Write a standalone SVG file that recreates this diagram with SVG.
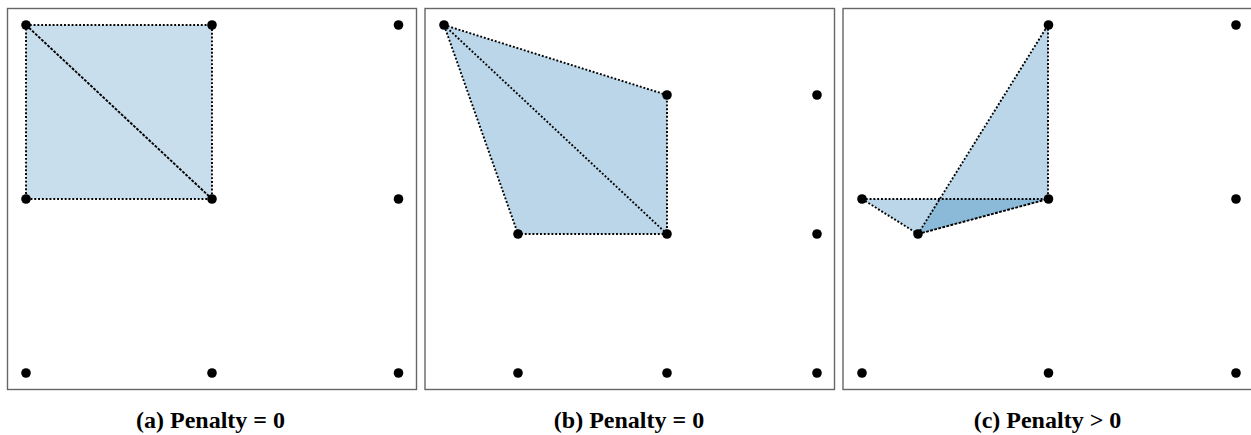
<svg xmlns="http://www.w3.org/2000/svg" width="1251" height="435" viewBox="0 0 1251 435">
<style>
.frame{fill:none;stroke:#666;stroke-width:1.4}
.pt{fill:#000}
.fa{fill:#1f77b4;fill-opacity:0.24;stroke:none}
.fb{fill:#1f77b4;fill-opacity:0.3;stroke:none}
.edge{fill:none;stroke:#000;stroke-width:1.9;stroke-dasharray:1.9 1.9}
.diag{fill:none;stroke:#000;stroke-width:1.9;stroke-dasharray:2.8 1.4}
.cap{font-family:"Liberation Serif","Times New Roman",serif;font-weight:bold;font-size:24px;text-anchor:middle;fill:#000}
</style>
<rect x="0" y="0" width="1251" height="435" fill="#fff"/>
<g id="panel-a">
<rect class="frame" x="7.5" y="8.5" width="409" height="381"/>
<polygon class="fa" points="26,25 212,25 212,199 26,199"/>
<g id="connectors-a">
<polyline class="edge" points="26,25 212,25 212,199 26,199 26,25"/>
<line class="diag" x1="26" y1="25" x2="212" y2="199"/>
</g>
<g id="points-a">
<circle class="pt" cx="26" cy="25" r="4.8"/><circle class="pt" cx="212" cy="25" r="4.8"/><circle class="pt" cx="398.5" cy="25" r="4.8"/>
<circle class="pt" cx="26" cy="199" r="4.8"/><circle class="pt" cx="212" cy="199" r="4.8"/><circle class="pt" cx="398.5" cy="199" r="4.8"/>
<circle class="pt" cx="26" cy="373" r="4.8"/><circle class="pt" cx="212" cy="373" r="4.8"/><circle class="pt" cx="398.5" cy="373" r="4.8"/>
</g>
<text class="cap" x="210.5" y="428">(a) Penalty = 0</text>
</g>
<g id="panel-b">
<rect class="frame" x="425" y="8.5" width="409.5" height="381"/>
<polygon class="fb" points="444,25 667,95 667,234 518,234"/>
<g id="connectors-b">
<polyline class="edge" points="444,25 667,95 667,234 518,234 444,25"/>
<line class="edge" x1="444" y1="25" x2="667" y2="234"/>
</g>
<g id="points-b">
<circle class="pt" cx="444" cy="25" r="4.8"/>
<circle class="pt" cx="667" cy="95" r="4.8"/><circle class="pt" cx="817" cy="95" r="4.8"/>
<circle class="pt" cx="518" cy="234" r="4.8"/><circle class="pt" cx="667" cy="234" r="4.8"/><circle class="pt" cx="817" cy="234" r="4.8"/>
<circle class="pt" cx="518" cy="373" r="4.8"/><circle class="pt" cx="667" cy="373" r="4.8"/><circle class="pt" cx="817" cy="373" r="4.8"/>
</g>
<text class="cap" x="629" y="428">(b) Penalty = 0</text>
</g>
<g id="panel-c">
<rect class="frame" x="843" y="8.5" width="409" height="381"/>
<polygon class="fb" points="862,199 1048,199 918,234"/>
<polygon class="fb" points="918,234 1048,25 1048,199"/>
<g id="connectors-c">
<polyline class="edge" points="862,199 1048,199"/>
<polyline class="edge" points="862,199 918,234"/>
<polyline class="edge" points="918,234 1048,25"/>
<polyline class="edge" points="1048,25 1048,199"/>
<line class="diag" x1="918" y1="234" x2="1048" y2="199"/>
</g>
<g id="points-c">
<circle class="pt" cx="1048.5" cy="25" r="4.8"/><circle class="pt" cx="1236" cy="25" r="4.8"/>
<circle class="pt" cx="862" cy="199" r="4.8"/><circle class="pt" cx="1048.5" cy="199" r="4.8"/><circle class="pt" cx="1236" cy="199" r="4.8"/>
<circle class="pt" cx="918" cy="234" r="4.8"/>
<circle class="pt" cx="862" cy="373" r="4.8"/><circle class="pt" cx="1048.5" cy="373" r="4.8"/><circle class="pt" cx="1236" cy="373" r="4.8"/>
</g>
<text class="cap" x="1047.5" y="428">(c) Penalty &gt; 0</text>
</g>
</svg>
